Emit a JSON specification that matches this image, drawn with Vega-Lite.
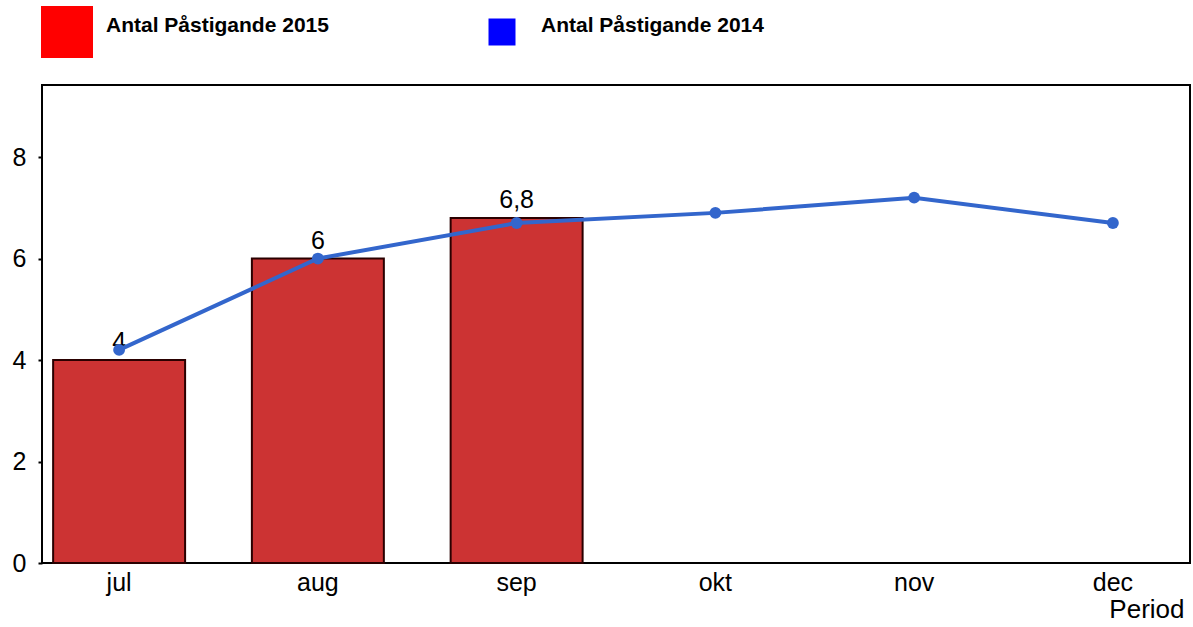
{
  "$schema": "https://vega.github.io/schema/vega-lite/v6.json",
  "width": 1148,
  "height": 478,
  "autosize": {"type": "none"},
  "padding": {"left": 42, "top": 85, "right": 3, "bottom": 64},
  "background": "white",
  "data": {
    "values": [
      {"Period": "jul", "serie": "Antal Påstigande 2015", "value": 4},
      {"Period": "aug", "serie": "Antal Påstigande 2015", "value": 6},
      {"Period": "sep", "serie": "Antal Påstigande 2015", "value": 6.8},
      {"Period": "jul", "serie": "Antal Påstigande 2014", "value": 4.2},
      {"Period": "aug", "serie": "Antal Påstigande 2014", "value": 6.0},
      {"Period": "sep", "serie": "Antal Påstigande 2014", "value": 6.7},
      {"Period": "okt", "serie": "Antal Påstigande 2014", "value": 6.9},
      {"Period": "nov", "serie": "Antal Påstigande 2014", "value": 7.2},
      {"Period": "dec", "serie": "Antal Påstigande 2014", "value": 6.7}
    ]
  },
  "encoding": {
    "x": {
      "field": "Period",
      "type": "nominal",
      "sort": ["jul", "aug", "sep", "okt", "nov", "dec"],
      "scale": {"domain": ["jul", "aug", "sep", "okt", "nov", "dec"], "paddingInner": 0.336, "paddingOuter": 0.056},
      "axis": {
        "title": "Period",
        "titleAnchor": "end",
        "titleAlign": "right",
        "titleFontSize": 26,
        "titleFontWeight": "normal",
        "titleFont": "Liberation Sans",
        "titleColor": "black",
        "titlePadding": 1,
        "titleX": 1142,
        "labelAngle": 0,
        "labelFontSize": 25,
        "labelFont": "Liberation Sans",
        "labelColor": "black",
        "labelPadding": 7,
        "ticks": false,
        "domain": false,
        "grid": false
      }
    },
    "y": {
      "field": "value",
      "type": "quantitative",
      "scale": {"domain": [0, 9.42], "nice": false, "zero": true},
      "axis": {
        "title": null,
        "values": [0, 2, 4, 6, 8],
        "labelFontSize": 25,
        "labelFont": "Liberation Sans",
        "labelColor": "black",
        "labelPadding": 12,
        "tickSize": 4,
        "tickWidth": 2,
        "tickColor": "black",
        "domain": false,
        "grid": false
      }
    }
  },
  "layer": [
    {
      "mark": {"type": "point", "filled": true, "opacity": 0},
      "encoding": {
        "fill": {
          "field": "serie",
          "type": "nominal",
          "scale": {"domain": ["Antal Påstigande 2015", "Antal Påstigande 2014"], "range": ["#FF0000", "#0000FF"]},
          "legend": {
            "title": null,
            "orient": "none",
            "legendX": -1,
            "legendY": -79,
            "direction": "horizontal",
            "columns": 2,
            "columnPadding": 147,
            "symbolType": "square",
            "symbolStrokeWidth": 0,
            "symbolOpacity": 1,
            "labelFont": "Liberation Sans",
            "labelFontSize": 21,
            "labelFontWeight": "bold",
            "labelColor": "black",
            "labelBaseline": "alphabetic",
            "labelLimit": 400,
            "labelOffset": 13
          }
        },
        "size": {
          "field": "serie",
          "type": "nominal",
          "scale": {"domain": ["Antal Påstigande 2015", "Antal Påstigande 2014"], "range": [2704, 729]},
          "legend": {
            "title": null,
            "orient": "none",
            "legendX": -1,
            "legendY": -79,
            "direction": "horizontal",
            "columns": 2,
            "columnPadding": 147,
            "symbolType": "square",
            "symbolStrokeWidth": 0,
            "symbolOpacity": 1,
            "labelFont": "Liberation Sans",
            "labelFontSize": 21,
            "labelFontWeight": "bold",
            "labelColor": "black",
            "labelBaseline": "alphabetic",
            "labelLimit": 400,
            "labelOffset": 13
          }
        }
      }
    },
    {
      "transform": [{"filter": "datum.serie === 'Antal Påstigande 2015'"}],
      "mark": {"type": "bar", "stroke": "#2a0000", "strokeWidth": 2},
      "encoding": {
        "color": {
          "field": "serie",
          "type": "nominal",
          "scale": {"domain": ["Antal Påstigande 2015", "Antal Påstigande 2014"], "range": ["#CC3333", "#3366CC"]},
          "legend": null
        }
      }
    },
    {
      "transform": [{"filter": "datum.serie === 'Antal Påstigande 2015'"}],
      "mark": {"type": "text", "baseline": "alphabetic", "dy": -10, "fontSize": 25, "font": "Liberation Sans", "color": "black"},
      "encoding": {
        "text": {"field": "value", "type": "quantitative", "format": "~g"}
      }
    },
    {
      "transform": [{"filter": "datum.serie === 'Antal Påstigande 2014'"}],
      "mark": {"type": "line", "strokeWidth": 4, "point": {"size": 140, "filled": true, "opacity": 1}},
      "encoding": {
        "color": {"field": "serie", "type": "nominal", "legend": null}
      }
    }
  ],
  "config": {
    "locale": {"number": {"decimal": ",", "thousands": " ", "grouping": [3], "currency": ["", " kr"]}},
    "view": {"stroke": "black", "strokeWidth": 2}
  }
}
